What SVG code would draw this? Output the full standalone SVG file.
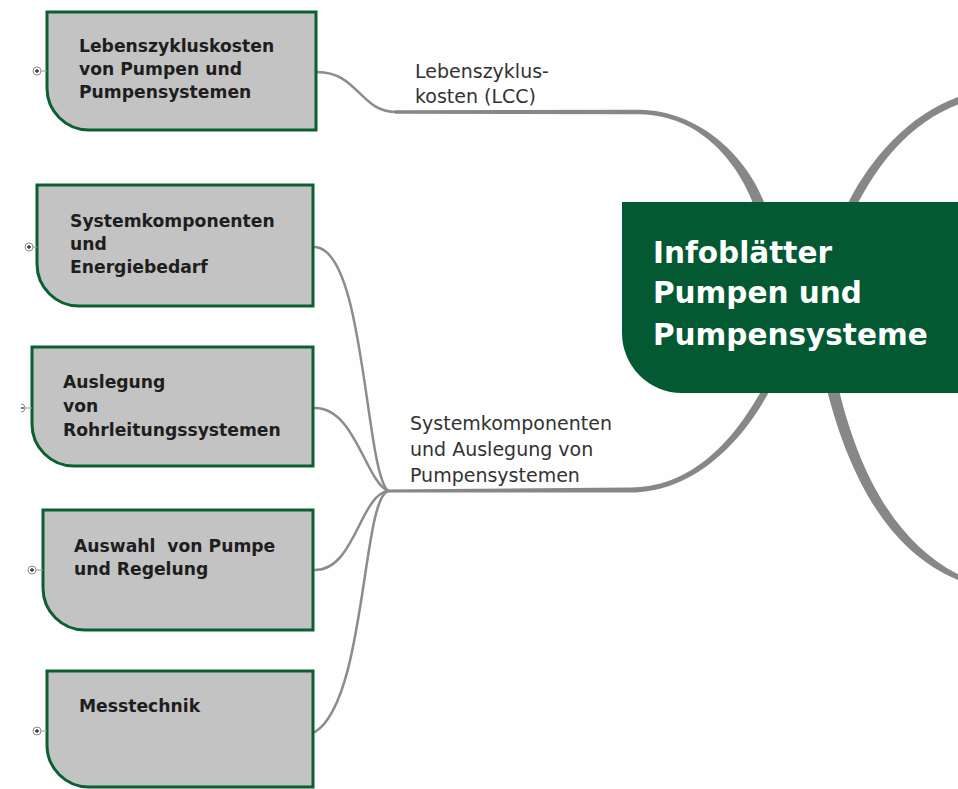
<svg xmlns="http://www.w3.org/2000/svg" width="958" height="789" viewBox="0 0 958 789">
<defs>
<style>
.node{fill:#c3c3c3;stroke:#0b5f30;stroke-width:3}
.nt{font-family:"DejaVu Sans",Verdana,sans-serif;font-weight:bold;font-size:17.2px;fill:#1e1e1e;white-space:pre}
.ct{font-family:"DejaVu Sans",Verdana,sans-serif;font-weight:bold;font-size:29.5px;fill:#ffffff}
.lbl{font-family:"DejaVu Sans",Verdana,sans-serif;font-size:19px;fill:#333333}
.thin{fill:none;stroke:#8c8c8c;stroke-width:2.5;stroke-linecap:round}
.thick{fill:#878787;stroke:none}
.exp{fill:#ffffff;stroke:#8a8a8a;stroke-width:1}
.expp{stroke:#333;stroke-width:1.3}
.stub{stroke:#9a9a9a;stroke-width:1}
</style>
</defs>
<rect width="958" height="789" fill="#fefefe"/>

<g id="connectors">
<path class="thin" d="M317,72 C358,72 360,112 396,112"/>
<path class="thick" d="M395,110.3 L640,109.8 C700,110.8 750,158 767,210 L757,214 C740,162 700,115.2 640,114.2 L395,113.7 Z"/>
<path class="thick" d="M848,203 C871,158 908.8,114.7 958.8,96.7 L961.2,103.3 C911.2,121.3 879,162 856,207 Z"/>
<path class="thick" d="M772,386 C748.8,432.4 700,492.5 630,492.5 L388,492.5 L388,489.5 L630,487.5 C700,487.5 741.2,427.6 764,386 Z"/>
<path class="thick" d="M826,386 C845,462 881,549 959,580.3 L961,575.7 C889,541 855,458 838,386 Z"/>
<path class="thin" d="M315,247 C365,250 365,470 388,491"/>
<path class="thin" d="M315,408 C355,408 365,480 388,491"/>
<path class="thin" d="M315,570 C355,570 360,495 388,491"/>
<path class="thin" d="M315,732 C366,700 362,500 388,491"/>
</g>

<g id="center">
<path d="M622,202 H960 V393 H682 A60 60 0 0 1 622,333 Z" fill="#035a32"/>
<text class="ct" x="653" y="263">Infoblätter</text>
<text class="ct" x="653" y="303">Pumpen und</text>
<text class="ct" x="653" y="345">Pumpensysteme</text>
</g>

<g id="label-lcc">
<text class="lbl" x="415" y="78">Lebenszyklus-</text>
<text class="lbl" x="415" y="103">kosten (LCC)</text>
</g>
<g id="label-sys">
<text class="lbl" x="410" y="430">Systemkomponenten</text>
<text class="lbl" x="410" y="456">und Auslegung von</text>
<text class="lbl" x="410" y="482">Pumpensystemen</text>
</g>

<g id="node-lcc">
<path class="node" d="M47,12 H316 V130 H89 A42 42 0 0 1 47,88 Z"/>
<line class="stub" x1="41" y1="71" x2="47" y2="71"/>
<circle class="exp" cx="37" cy="71" r="4"/>
<path class="expp" d="M35,71 H39 M37,69 V73"/>
<text class="nt" x="79" y="52">Lebenszykluskosten</text>
<text class="nt" x="79" y="75">von Pumpen und</text>
<text class="nt" x="79" y="98">Pumpensystemen</text>
</g>

<g id="node-energie">
<path class="node" d="M37,185 H313 V306 H79 A42 42 0 0 1 37,264 Z"/>
<line class="stub" x1="33" y1="247" x2="37" y2="247"/>
<circle class="exp" cx="29" cy="247" r="4"/>
<path class="expp" d="M27,247 H31 M29,245 V249"/>
<text class="nt" x="70" y="227">Systemkomponenten</text>
<text class="nt" x="70" y="250">und</text>
<text class="nt" x="70" y="273">Energiebedarf</text>
</g>

<g id="node-rohr">
<path class="node" d="M32,347 H313 V466 H74 A42 42 0 0 1 32,424 Z"/>
<line class="stub" x1="25" y1="408" x2="32" y2="408"/>
<path class="exp" d="M21,404 A4 4 0 0 1 21,412"/>
<path class="expp" d="M21,408 H24"/>
<text class="nt" x="63" y="388">Auslegung</text>
<text class="nt" x="63" y="412">von</text>
<text class="nt" x="63" y="436">Rohrleitungssystemen</text>
</g>

<g id="node-auswahl">
<path class="node" d="M43,510 H313 V630 H85 A42 42 0 0 1 43,588 Z"/>
<line class="stub" x1="36" y1="570" x2="43" y2="570"/>
<circle class="exp" cx="32" cy="570" r="4"/>
<path class="expp" d="M30,570 H34 M32,568 V572"/>
<text class="nt" x="74" y="552">Auswahl  von Pumpe</text>
<text class="nt" x="74" y="575">und Regelung</text>
</g>

<g id="node-mess">
<path class="node" d="M47,671 H313 V787 H89 A42 42 0 0 1 47,745 Z"/>
<line class="stub" x1="41" y1="731" x2="47" y2="731"/>
<circle class="exp" cx="37" cy="731" r="4"/>
<path class="expp" d="M35,731 H39 M37,729 V733"/>
<text class="nt" x="79" y="712">Messtechnik</text>
</g>
</svg>
